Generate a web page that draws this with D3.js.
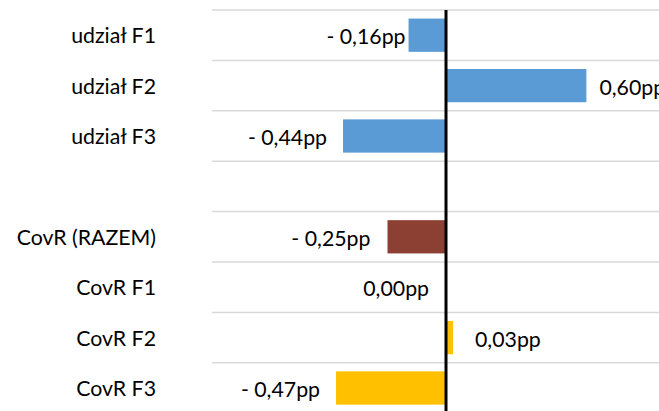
<!DOCTYPE html>
<html>
<head>
<meta charset="utf-8">
<script src="https://cdn.jsdelivr.net/npm/d3@7"></script>
<style>
  html, body { margin: 0; padding: 0; background: #fff; }
  svg { display: block; }
  text { font-family: Lato, "Open Sans", sans-serif; fill: #000; }
</style>
</head>
<body>
<svg id="chart" width="659" height="411"></svg>
<script>
// Data
const categories = ["udział F1", "udział F2", "udział F3", "", "CovR (RAZEM)", "CovR F1", "CovR F2", "CovR F3"];
const values     = [-0.16, 0.60, -0.44, null, -0.25, 0.00, 0.03, -0.47];
const groups     = ["udzial", "udzial", "udzial", null, "razem", "covr", "covr", "covr"];
const valueLabels = ["- 0,16pp", "0,60pp", "- 0,44pp", "", "- 0,25pp", "0,00pp", "0,03pp", "- 0,47pp"];
// label nudges (extra px away from the bar end, as placed in the original)
const labelGap = [3, 13, 16, 0, 17, 17, 22, 16];

const colors = { udzial: "#5B9BD5", razem: "#8C4033", covr: "#FFC000" };

const svg = d3.select("#chart");
const W = 659, H = 411;
const plot = { left: 212, right: 680, top: 10, bottom: 413.2 };
const fontSize = 21.3;

const x = d3.scaleLinear().domain([-1, 1]).range([plot.left, plot.right]);
const y = d3.scaleBand().domain(categories.map((c, i) => i))
  .range([plot.top, plot.bottom]).paddingInner(0.34).paddingOuter(0.17);

const step = y.step();
const gridYs = d3.range(categories.length + 1).map(i => plot.top + i * step);

// gridlines
svg.append("g").selectAll("line").data(gridYs).join("line")
  .attr("x1", plot.left).attr("x2", W)
  .attr("y1", d => d).attr("y2", d => d)
  .attr("stroke", "#D9D9D9").attr("stroke-width", 1.5);

const data = categories.map((c, i) => ({ i, c, v: values[i], g: groups[i], lab: valueLabels[i], gap: labelGap[i] }));

// bars
svg.append("g").selectAll("rect").data(data.filter(d => d.v !== null && d.v !== 0)).join("rect")
  .attr("x", d => x(Math.min(0, d.v)))
  .attr("width", d => Math.abs(x(d.v) - x(0)))
  .attr("y", d => y(d.i))
  .attr("height", y.bandwidth())
  .attr("fill", d => colors[d.g]);

// zero line
svg.append("line")
  .attr("x1", x(0)).attr("x2", x(0))
  .attr("y1", plot.top).attr("y2", H)
  .attr("stroke", "#000").attr("stroke-width", 3);

// category labels
svg.append("g").selectAll("text").data(data).join("text")
  .attr("x", 156)
  .attr("y", d => y(d.i) + y.bandwidth() / 2)
  .attr("text-anchor", "end")
  .attr("dominant-baseline", "central")
  .attr("font-size", fontSize)
  .text(d => d.c);

// value labels
svg.append("g").selectAll("text").data(data.filter(d => d.v !== null)).join("text")
  .attr("x", d => d.v > 0 ? x(d.v) + d.gap : x(Math.min(0, d.v)) - d.gap)
  .attr("y", d => y(d.i) + y.bandwidth() / 2 + 1)
  .attr("text-anchor", d => d.v > 0 ? "start" : "end")
  .attr("dominant-baseline", "central")
  .attr("font-size", fontSize)
  .text(d => d.lab);
</script>
</body>
</html>
